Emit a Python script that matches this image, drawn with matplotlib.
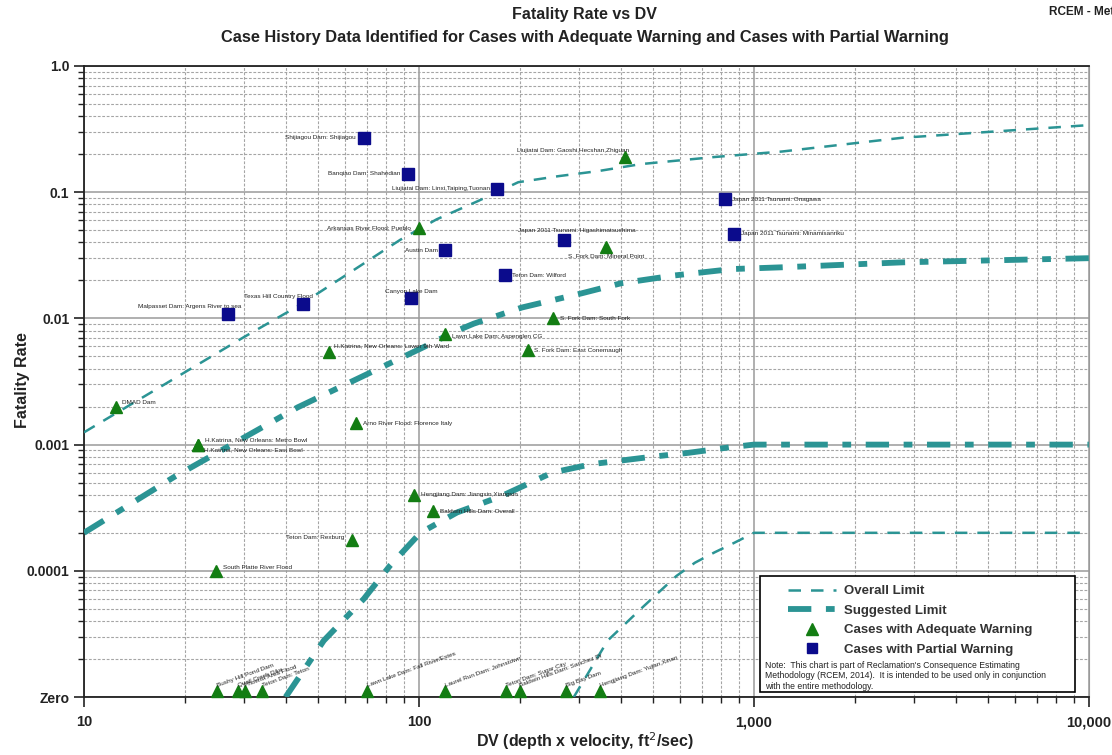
import matplotlib
matplotlib.use("Agg")
import matplotlib.pyplot as plt
from matplotlib import font_manager
from matplotlib.lines import Line2D
from matplotlib.patches import Rectangle
from matplotlib.ticker import FixedLocator, LogLocator, NullFormatter

# ---- data ----
ZERO = 1e-5   # a fatality rate of zero is drawn on this row

overall_upper_dv = [10, 30, 44, 88, 113, 150, 198, 261, 343, 460, 763, 1213, 2773, 10000]
overall_upper_rate = [0.00125, 0.0071, 0.0127, 0.042, 0.061, 0.085, 0.12, 0.134, 0.147,
                      0.167, 0.19, 0.21, 0.27, 0.34]

overall_lower_dv = [290, 366, 460, 587, 667, 763, 875, 1000, 10000]
overall_lower_rate = [1e-5, 2.8e-5, 5e-5, 9.1e-5, 1.16e-4, 1.4e-4, 1.67e-4, 2e-4, 2e-4]

suggested_upper_dv = [10, 18.5, 43.4, 103, 130, 146, 203, 306, 402, 580, 860, 1213, 2773, 10000]
suggested_upper_rate = [0.0002, 0.00055, 0.00197, 0.0059, 0.008, 0.0091, 0.0122, 0.0158,
                        0.019, 0.0219, 0.0246, 0.0254, 0.0278, 0.030]

suggested_lower_dv = [40, 52, 68.5, 82, 101, 130, 176, 250, 328, 494, 636, 842, 1000, 10000]
suggested_lower_rate = [1e-5, 2.8e-5, 6e-5, 1.1e-4, 2e-4, 2.9e-4, 0.00039, 0.0006, 0.0007,
                        0.0008, 0.00086, 0.00095, 0.001, 0.001]

partial_names = ["Shijiagou Dam: Shijiagou", "Banqiao Dam: Shahedian",
                 "Liujiatai Dam: Linxi,Taiping,Tuonan", "Austin Dam", "Canyon Lake Dam",
                 "Texas Hill Country Flood", "Malpasset Dam: Argens River to sea",
                 "Japan 2011 Tsunami: Higashimatsushima", "Teton Dam: Wilford",
                 "Japan 2011 Tsunami: Onagawa", "Japan 2011 Tsunami: Minamisanriku"]
partial_dv = [68.5, 93, 171, 120, 95, 45, 27, 272, 181, 818, 871]
partial_rate = [0.27, 0.14, 0.106, 0.0346, 0.0144, 0.013, 0.0108, 0.042, 0.022, 0.088, 0.047]

adequate_names = ["Liujiatai Dam: Gaoshi,Hecshan,Zhiguan", "Arkansas River Flood: Pueblo",
                  "S. Fork Dam: Mineral Point", "S. Fork Dam: South Fork",
                  "Lawn Lake Dam: Aspenglen CG", "H.Katrina, New Orleans: Lower 9th Ward",
                  "S. Fork Dam: East Conemaugh", "DMAD Dam", "Arno River Flood: Florence Italy",
                  "H.Katrina, New Orleans: Metro Bowl", "H.Katrina, New Orleans: East Bowl",
                  "Hengjiang Dam: Jiangxin,Xiangxin", "Baldwin Hills Dam: Overall",
                  "Teton Dam: Rexburg", "South Platte River Flood"]
adequate_dv = [411, 100, 363, 252, 120, 54, 212, 12.5, 65, 21.9, 21.9, 97, 110, 63, 24.8]
adequate_rate = [0.19, 0.052, 0.0366, 0.01, 0.0075, 0.0054, 0.0056, 0.002, 0.00147,
                 0.001, 0.001, 0.0004, 0.0003, 0.000176, 0.0001]

zero_names = ["Bushy Hill Pond Dam", "Quail Creek Dike", "Phoenix Area Flood",
              "Teton Dam: Teton", "Lawn Lake Dam: Fall River/Estes", "Laurel Run Dam: Johnstown",
              "Teton Dam: Sugar City", "Baldwin Hills Dam: Sanchez Dr", "Big Bay Dam",
              "Hengjiang Dam: Yujian,Xinan"]
zero_dv = [25.0, 28.9, 30.2, 34.1, 70, 120, 182, 200, 275, 348]

y_ticks = [1e-5, 1e-4, 1e-3, 1e-2, 1e-1, 1.0]
y_ticklabels = ["Zero", "0.0001", "0.001", "0.01", "0.1", "1.0"]
x_ticks = [10, 100, 1000, 10000]
x_ticklabels = ["10", "100", "1,000", "10,000"]

# label placement (pixel offset from the marker, horizontal alignment)
partial_label_pos = [(-8, 0, "right"), (-8, 0, "right"), (-7, 0, "right"), (-7, 0, "right"),
                     (0, 7, "center"), (-24, 8, "center"), (-39, 8, "center"), (12, 9, "center"),
                     (7, 0, "left"), (7, 0, "left"), (7, 0, "left")]
adequate_label_pos = [(-51, 7, "center"), (-8, 0, "right"), (0, -9, "center"), (7, 0, "left"),
                      (7, -2, "left"), (5, 6, "left"), (6, 0, "left"), (6, 4, "left"),
                      (7, 0, "left"), (7, 5, "left"), (6, -5, "left"), (7, 0, "left"),
                      (7, -1, "left"), (-7, 2, "right"), (7, 3, "left")]

# ---- style ----
names = {f.name for f in font_manager.fontManager.ttflist}
head_font = "Liberation Sans Narrow" if "Liberation Sans Narrow" in names else "Liberation Sans"
plt.rcParams["font.family"] = "Liberation Sans"

teal = "#2b9494"
green = "#137d13"
navy = "#0b0b8c"
text_col = "#222222"

fig = plt.figure(figsize=(11.12, 7.55), dpi=100)
ax = fig.add_axes([0.0755, 0.0768, 0.9037, 0.8358])
ax.set_xscale("log")
ax.set_yscale("log")
ax.set_xlim(10, 10000)
ax.set_ylim(ZERO, 1.0)

# grid
ax.xaxis.set_minor_locator(LogLocator(base=10, subs=range(2, 10)))
ax.yaxis.set_minor_locator(LogLocator(base=10, subs=range(2, 10)))
ax.xaxis.set_minor_formatter(NullFormatter())
ax.yaxis.set_minor_formatter(NullFormatter())
ax.grid(which="major", color="#9a9a9a", lw=1.1, ls="-")
ax.grid(which="minor", color="#a5a5a5", lw=0.8, ls=(0, (2.5, 1.5)))
ax.set_axisbelow(True)

ax.xaxis.set_major_locator(FixedLocator(x_ticks))
ax.set_xticklabels(x_ticklabels, fontsize=10.5, fontweight="bold", color=text_col)
ax.yaxis.set_major_locator(FixedLocator(y_ticks))
ax.set_yticklabels(y_ticklabels, fontsize=10, fontweight="bold", color=text_col)
ax.tick_params(which="major", length=7, width=1.2, color="#222222")
ax.tick_params(which="minor", length=4, width=1.0, color="#222222")
ax.tick_params(axis="x", pad=6)
for side in ["left", "bottom", "top"]:
    ax.spines[side].set_color("#222222")
    ax.spines[side].set_linewidth(1.3)
ax.spines["right"].set_color("#9a9a9a")

# limit curves
ax.plot(overall_upper_dv, overall_upper_rate, color=teal, lw=1.8, ls=(0, (5, 4)), zorder=3)
ax.plot(overall_lower_dv, overall_lower_rate, color=teal, lw=1.8, ls=(0, (5, 4)), zorder=3)
ax.plot(suggested_upper_dv, suggested_upper_rate, color=teal, lw=4.2,
        ls=(0, (4, 2.5, 1.5, 2.5)), zorder=3)
ax.plot(suggested_lower_dv, suggested_lower_rate, color=teal, lw=4.2,
        ls=(0, (4, 2.5, 1.5, 2.5)), zorder=3)

# cases
ax.plot(adequate_dv, adequate_rate, ls="none", marker="^", ms=9, color=green, zorder=5)
ax.plot(partial_dv, partial_rate, ls="none", marker="s", ms=8, color=navy, zorder=5)
base_up = [(-1, 0), (1, 0), (0, 2), (-1, 0)]
ax.plot(zero_dv, [ZERO] * len(zero_dv), ls="none", marker=base_up, ms=17, color=green,
        zorder=5, clip_on=False)

def label_points(names_, xs, ys, pos):
    for name, x, y, (dx, dy, ha) in zip(names_, xs, ys, pos):
        ax.annotate(name, (x, y), xytext=(dx, dy), textcoords="offset pixels",
                    ha=ha, va="center", fontsize=4.6, color=text_col, zorder=6)

label_points(partial_names, partial_dv, partial_rate, partial_label_pos)
label_points(adequate_names, adequate_dv, adequate_rate, adequate_label_pos)
for name, x in zip(zero_names, zero_dv):
    ax.annotate(name, (x, ZERO), xytext=(1, 9), textcoords="offset pixels",
                ha="left", va="bottom", rotation=20, rotation_mode="anchor",
                fontsize=4.6, color=text_col, zorder=6)

# legend box with note
ax.add_patch(Rectangle((0.673, 0.008), 0.313, 0.184, transform=ax.transAxes,
                       facecolor="white", edgecolor="black", lw=1.2, zorder=7))
handles = [Line2D([], [], color=teal, lw=1.8, ls=(0, (5, 4))),
           Line2D([], [], color=teal, lw=4.2, ls=(0, (4, 2.5, 1.5, 2.5))),
           Line2D([], [], ls="none", marker="^", ms=9, color=green),
           Line2D([], [], ls="none", marker="s", ms=7, color=navy)]
labels = ["Overall Limit", "Suggested Limit", "Cases with Adequate Warning",
          "Cases with Partial Warning"]
leg = ax.legend(handles, labels, loc="upper left", bbox_to_anchor=(0.693, 0.190),
                frameon=False, handlelength=3.6, handletextpad=0.6, labelspacing=0.55,
                borderaxespad=0.2, prop={"weight": "bold", "size": 9.5})
leg.set_zorder(8)
for t in leg.get_texts():
    t.set_color("#333333")
ax.text(0.678, 0.057,
        "Note:  This chart is part of Reclamation's Consequence Estimating\n"
        "Methodology (RCEM, 2014).  It is intended to be used only in conjunction\n"
        "with the entire methodology.",
        transform=ax.transAxes, ha="left", va="top", fontsize=6.2, color=text_col,
        linespacing=1.2, zorder=9)

# titles and axis labels
fig.text(0.526, 0.981, "Fatality Rate vs DV", ha="center", va="center",
         fontsize=11.5, fontweight="bold", family=head_font, color=text_col)
fig.text(0.526, 0.950, "Case History Data Identified for Cases with Adequate Warning "
         "and Cases with Partial Warning", ha="center", va="center",
         fontsize=11.8, fontweight="bold", family=head_font, color=text_col)
fig.text(0.943, 0.984, "RCEM - Methodology", ha="left", va="center",
         fontsize=8.5, fontweight="bold", family=head_font, color=text_col)
fig.text(0.020, 0.497, "Fatality Rate", rotation=90, ha="center", va="center",
         fontsize=11.5, fontweight="bold", color=text_col)
fig.text(0.526, 0.018, "DV (depth x velocity, ft$^2$/sec)", ha="center", va="center",
         fontsize=11.5, fontweight="bold", color=text_col)

fig.savefig("out.png", dpi=100)
